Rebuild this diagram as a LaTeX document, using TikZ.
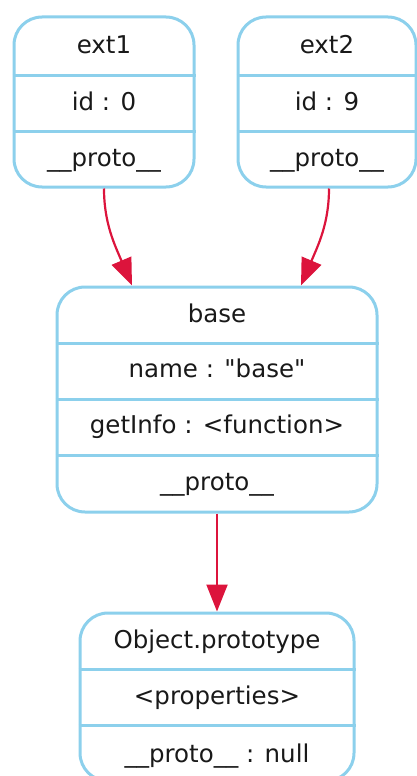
\documentclass[tikz,border=0pt]{standalone}
\usepackage{fontspec}
\setmainfont{DejaVu Sans}
\usetikzlibrary{arrows.meta}
\definecolor{recline}{RGB}{140,208,236}
\definecolor{linkred}{RGB}{220,20,60}
\begin{document}
\begin{tikzpicture}[x=1pt,y=-1pt,
  record/.style={draw=recline, line width=3pt, rounded corners=28pt, inner sep=0pt},
  divider/.style={draw=recline, line width=3pt},
  field/.style={font=\fontsize{24.5}{28}\selectfont, anchor=base, inner sep=0pt, text=black!90},
  link/.style={draw=linkred, line width=2.2pt, -{Triangle[length=27pt,width=21pt]}}]
\useasboundingbox (0,0) rectangle (417,776);

% record outlines
\node[record, minimum width=180pt, minimum height=170pt] (ext1) at (104,102) {};
\node[record, minimum width=178pt, minimum height=170pt] (ext2) at (327,102) {};
\node[record, minimum width=320pt, minimum height=225pt] (base) at (217,399.5) {};
\node[record, minimum width=274pt, minimum height=168pt] (obj) at (217,697) {};

% field separators
\foreach \r/\y in {ext1/75, ext1/131, ext2/75, ext2/131,
                   base/343, base/399, base/455, obj/669, obj/725}
  \draw[divider] (\r.west |- 0,\y) -- (\r.east |- 0,\y);

% fields of ext1
\node[field] (ext1-title) at (104,53) {ext1};
\node[field] (ext1-id)    at (104,110) {id : 0};
\node[field] (ext1-proto) at (104,166) {\_\_proto\_\_};

% fields of ext2
\node[field] (ext2-title) at (327,53) {ext2};
\node[field] (ext2-id)    at (327,110) {id : 9};
\node[field] (ext2-proto) at (327,166) {\_\_proto\_\_};

% fields of base
\node[field] (base-title) at (217,322) {base};
\node[field] (base-name)  at (217,377) {name : \textquotedbl base\textquotedbl};
\node[field] (base-info)  at (217,433) {getInfo : <function>};
\node[field] (base-proto) at (217,490) {\_\_proto\_\_};

% fields of Object.prototype
\node[field] (obj-title) at (217,648) {Object.prototype};
\node[field] (obj-props) at (217,704) {<properties>};
\node[field] (obj-proto) at (217,762) {\_\_proto\_\_ : null};

% prototype links
\coordinate (b1) at ([xshift=-85pt]base.north);
\coordinate (b2) at ([xshift=84pt]base.north);
\draw[link] (ext1.south) .. controls +(0,35) and +(-17,-40) .. (b1);
\draw[link] ([xshift=2pt]ext2.south) .. controls +(0,35) and +(17,-40) .. (b2);
\draw[link] (base.south) -- (obj.north);
\end{tikzpicture}
\end{document}
